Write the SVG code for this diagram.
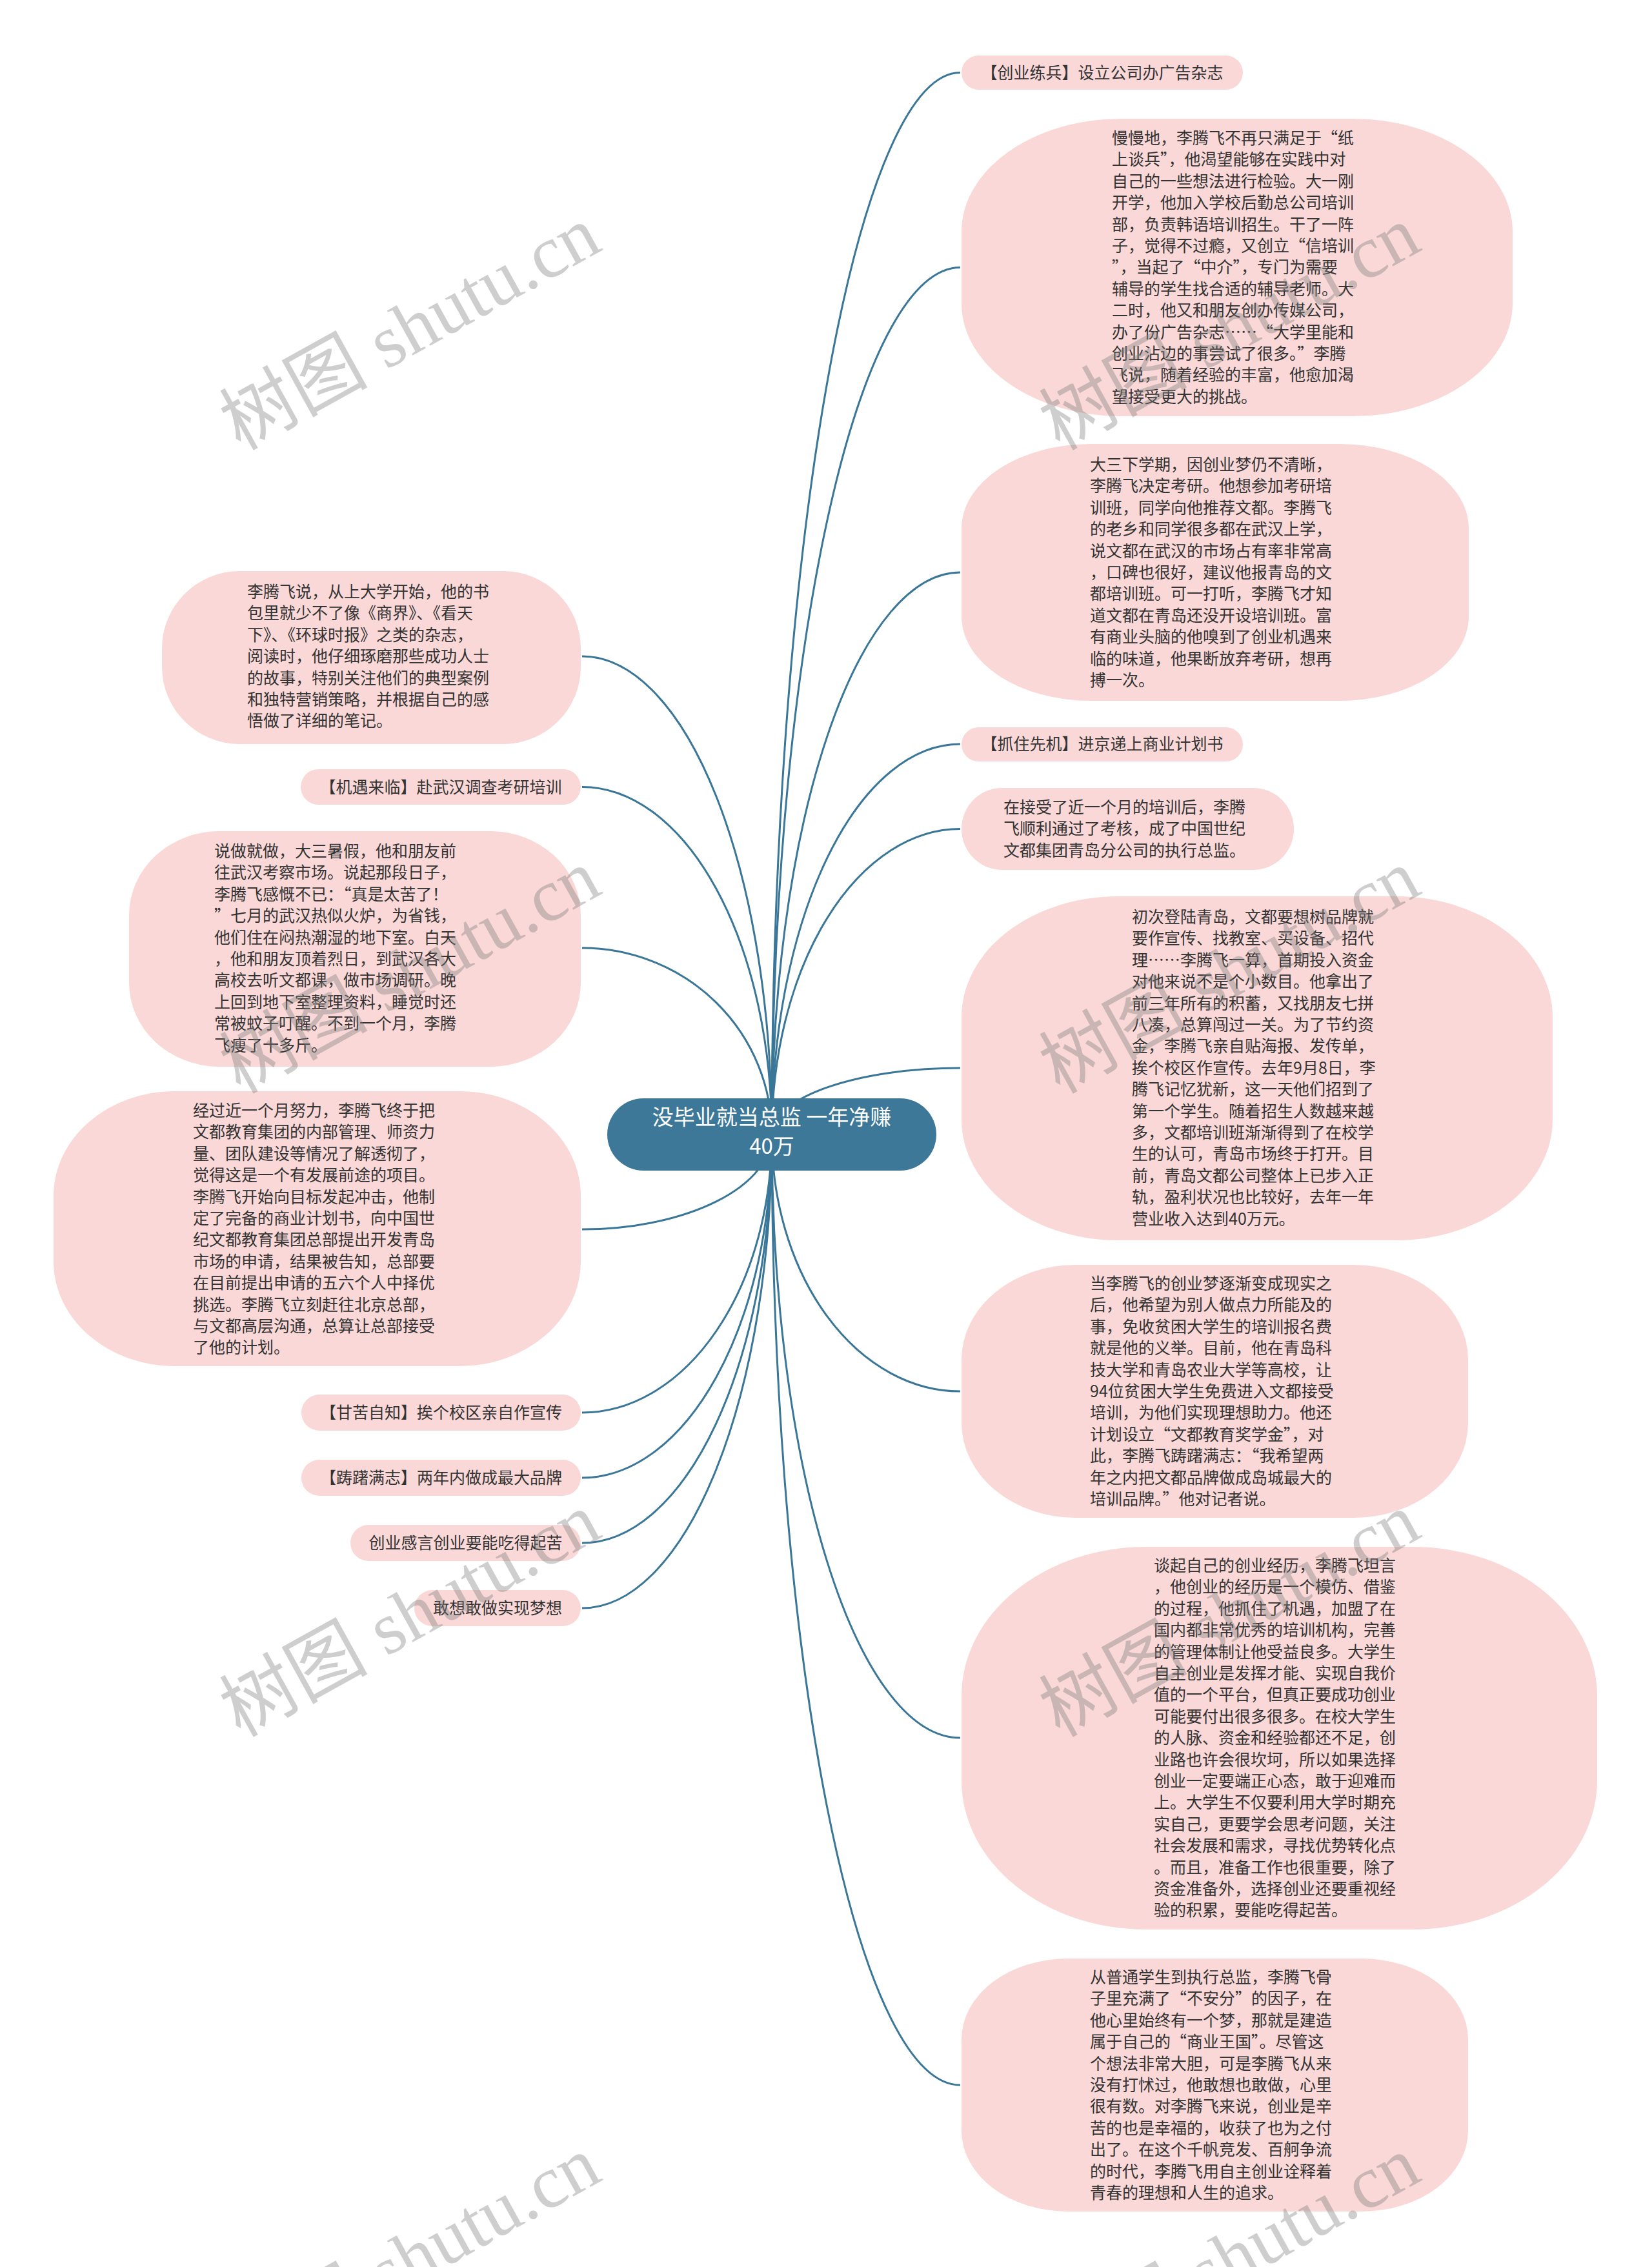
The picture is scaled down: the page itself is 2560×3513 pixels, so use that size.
<svg xmlns="http://www.w3.org/2000/svg" width="2560" height="3513" viewBox="0 0 2560 3513">
<style>
.nd{fill:#f9d8d7}
.t{font-family:"Noto Sans CJK SC","Noto Sans",sans-serif;font-size:25px;fill:#333333}
.tc{font-family:"Noto Sans CJK SC","Noto Sans",sans-serif;font-size:33px;fill:#ffffff}
.ln{fill:none;stroke:#3a7697;stroke-width:3}
.wm{font-family:"Liberation Serif","Noto Sans CJK SC",serif;font-size:115px;fill:#7f7f7f;opacity:0.38}
</style>
<rect x="0" y="0" width="2560" height="3513" fill="#ffffff"/>
<g id="connectors">
<path class="ln" d="M1196 1758 A292 1645.5 0 0 1 1488 112.5"/>
<path class="ln" d="M1196 1758 A292 1343.5 0 0 1 1488 414.5"/>
<path class="ln" d="M1196 1758 A292 871 0 0 1 1488 887"/>
<path class="ln" d="M1196 1758 A292 605 0 0 1 1488 1153"/>
<path class="ln" d="M1196 1758 A292 473.5 0 0 1 1488 1284.5"/>
<path class="ln" d="M1196 1758 A292 103 0 0 1 1488 1655"/>
<path class="ln" d="M1196 1758 A292 398 0 0 0 1488 2156"/>
<path class="ln" d="M1196 1758 A292 935 0 0 0 1488 2693"/>
<path class="ln" d="M1196 1758 A292 1473 0 0 0 1488 3231"/>
<path class="ln" d="M1196 1758 A294 741 0 0 0 902 1017"/>
<path class="ln" d="M1196 1758 A294 538.5 0 0 0 902 1219.5"/>
<path class="ln" d="M1196 1758 A294 289 0 0 0 902 1469"/>
<path class="ln" d="M1196 1758 A294 147 0 0 1 902 1905"/>
<path class="ln" d="M1196 1758 A294 431 0 0 1 902 2189"/>
<path class="ln" d="M1196 1758 A294 532 0 0 1 902 2290"/>
<path class="ln" d="M1196 1758 A294 633 0 0 1 902 2391"/>
<path class="ln" d="M1196 1758 A294 734 0 0 1 902 2492"/>
</g>
<g id="center">
<rect x="941" y="1702" width="510" height="112" rx="56" ry="56" fill="#3d7898"/>
<text class="tc" text-anchor="middle"><tspan x="1196" y="1743">没毕业就当总监 一年净赚</tspan><tspan x="1196" y="1788">40万</tspan></text>
</g>
<g id="r1">
<rect class="nd" x="1490" y="86" width="436" height="53" rx="26.5"/>
<text class="t" x="1708" y="121.5" text-anchor="middle">【创业练兵】设立公司办广告杂志</text>
</g>
<g id="r2">
<rect class="nd" x="1490" y="184" width="854" height="461" rx="248" ry="175"/>
<text class="t"><tspan x="1723" y="223">慢慢地，李腾飞不再只满足于“纸</tspan><tspan x="1723" dy="33.4">上谈兵”，他渴望能够在实践中对</tspan><tspan x="1723" dy="33.4">自己的一些想法进行检验。大一刚</tspan><tspan x="1723" dy="33.4">开学，他加入学校后勤总公司培训</tspan><tspan x="1723" dy="33.4">部，负责韩语培训招生。干了一阵</tspan><tspan x="1723" dy="33.4">子，觉得不过瘾，又创立“信培训</tspan><tspan x="1723" dy="33.4">”，当起了“中介”，专门为需要</tspan><tspan x="1723" dy="33.4">辅导的学生找合适的辅导老师。大</tspan><tspan x="1723" dy="33.4">二时，他又和朋友创办传媒公司，</tspan><tspan x="1723" dy="33.4">办了份广告杂志……“大学里能和</tspan><tspan x="1723" dy="33.4">创业沾边的事尝试了很多。”李腾</tspan><tspan x="1723" dy="33.4">飞说，随着经验的丰富，他愈加渴</tspan><tspan x="1723" dy="33.4">望接受更大的挑战。</tspan></text>
</g>
<g id="r3">
<rect class="nd" x="1490" y="688" width="786" height="398" rx="200" ry="131"/>
<text class="t"><tspan x="1689" y="729">大三下学期，因创业梦仍不清晰，</tspan><tspan x="1689" dy="33.4">李腾飞决定考研。他想参加考研培</tspan><tspan x="1689" dy="33.4">训班，同学向他推荐文都。李腾飞</tspan><tspan x="1689" dy="33.4">的老乡和同学很多都在武汉上学，</tspan><tspan x="1689" dy="33.4">说文都在武汉的市场占有率非常高</tspan><tspan x="1689" dy="33.4">，口碑也很好，建议他报青岛的文</tspan><tspan x="1689" dy="33.4">都培训班。可一打听，李腾飞才知</tspan><tspan x="1689" dy="33.4">道文都在青岛还没开设培训班。富</tspan><tspan x="1689" dy="33.4">有商业头脑的他嗅到了创业机遇来</tspan><tspan x="1689" dy="33.4">临的味道，他果断放弃考研，想再</tspan><tspan x="1689" dy="33.4">搏一次。</tspan></text>
</g>
<g id="r4">
<rect class="nd" x="1490" y="1127" width="436" height="53" rx="26.5"/>
<text class="t" x="1708" y="1162" text-anchor="middle">【抓住先机】进京递上商业计划书</text>
</g>
<g id="r5">
<rect class="nd" x="1490" y="1221" width="515" height="127" rx="63" ry="63"/>
<text class="t"><tspan x="1555" y="1260">在接受了近一个月的培训后，李腾</tspan><tspan x="1555" dy="33.4">飞顺利通过了考核，成了中国世纪</tspan><tspan x="1555" dy="33.4">文都集团青岛分公司的执行总监。</tspan></text>
</g>
<g id="r6">
<rect class="nd" x="1490" y="1389" width="916" height="533" rx="243" ry="187"/>
<text class="t"><tspan x="1754" y="1430">初次登陆青岛，文都要想树品牌就</tspan><tspan x="1754" dy="33.4">要作宣传、找教室、买设备、招代</tspan><tspan x="1754" dy="33.4">理……李腾飞一算，首期投入资金</tspan><tspan x="1754" dy="33.4">对他来说不是个小数目。他拿出了</tspan><tspan x="1754" dy="33.4">前三年所有的积蓄，又找朋友七拼</tspan><tspan x="1754" dy="33.4">八凑，总算闯过一关。为了节约资</tspan><tspan x="1754" dy="33.4">金，李腾飞亲自贴海报、发传单，</tspan><tspan x="1754" dy="33.4">挨个校区作宣传。去年9月8日，李</tspan><tspan x="1754" dy="33.4">腾飞记忆犹新，这一天他们招到了</tspan><tspan x="1754" dy="33.4">第一个学生。随着招生人数越来越</tspan><tspan x="1754" dy="33.4">多，文都培训班渐渐得到了在校学</tspan><tspan x="1754" dy="33.4">生的认可，青岛市场终于打开。目</tspan><tspan x="1754" dy="33.4">前，青岛文都公司整体上已步入正</tspan><tspan x="1754" dy="33.4">轨，盈利状况也比较好，去年一年</tspan><tspan x="1754" dy="33.4">营业收入达到40万元。</tspan></text>
</g>
<g id="r7">
<rect class="nd" x="1490" y="1960" width="785" height="392" rx="177" ry="147"/>
<text class="t"><tspan x="1689" y="1998">当李腾飞的创业梦逐渐变成现实之</tspan><tspan x="1689" dy="33.4">后，他希望为别人做点力所能及的</tspan><tspan x="1689" dy="33.4">事，免收贫困大学生的培训报名费</tspan><tspan x="1689" dy="33.4">就是他的义举。目前，他在青岛科</tspan><tspan x="1689" dy="33.4">技大学和青岛农业大学等高校，让</tspan><tspan x="1689" dy="33.4">94位贫困大学生免费进入文都接受</tspan><tspan x="1689" dy="33.4">培训，为他们实现理想助力。他还</tspan><tspan x="1689" dy="33.4">计划设立“文都教育奖学金”，对</tspan><tspan x="1689" dy="33.4">此，李腾飞踌躇满志：“我希望两</tspan><tspan x="1689" dy="33.4">年之内把文都品牌做成岛城最大的</tspan><tspan x="1689" dy="33.4">培训品牌。”他对记者说。</tspan></text>
</g>
<g id="r8">
<rect class="nd" x="1490" y="2397" width="985" height="593" rx="286" ry="231"/>
<text class="t"><tspan x="1788" y="2435">谈起自己的创业经历，李腾飞坦言</tspan><tspan x="1788" dy="33.4">，他创业的经历是一个模仿、借鉴</tspan><tspan x="1788" dy="33.4">的过程，他抓住了机遇，加盟了在</tspan><tspan x="1788" dy="33.4">国内都非常优秀的培训机构，完善</tspan><tspan x="1788" dy="33.4">的管理体制让他受益良多。大学生</tspan><tspan x="1788" dy="33.4">自主创业是发挥才能、实现自我价</tspan><tspan x="1788" dy="33.4">值的一个平台，但真正要成功创业</tspan><tspan x="1788" dy="33.4">可能要付出很多很多。在校大学生</tspan><tspan x="1788" dy="33.4">的人脉、资金和经验都还不足，创</tspan><tspan x="1788" dy="33.4">业路也许会很坎坷，所以如果选择</tspan><tspan x="1788" dy="33.4">创业一定要端正心态，敢于迎难而</tspan><tspan x="1788" dy="33.4">上。大学生不仅要利用大学时期充</tspan><tspan x="1788" dy="33.4">实自己，更要学会思考问题，关注</tspan><tspan x="1788" dy="33.4">社会发展和需求，寻找优势转化点</tspan><tspan x="1788" dy="33.4">。而且，准备工作也很重要，除了</tspan><tspan x="1788" dy="33.4">资金准备外，选择创业还要重视经</tspan><tspan x="1788" dy="33.4">验的积累，要能吃得起苦。</tspan></text>
</g>
<g id="r9">
<rect class="nd" x="1490" y="3035" width="785" height="392" rx="165" ry="125"/>
<text class="t"><tspan x="1689" y="3073">从普通学生到执行总监，李腾飞骨</tspan><tspan x="1689" dy="33.4">子里充满了“不安分”的因子，在</tspan><tspan x="1689" dy="33.4">他心里始终有一个梦，那就是建造</tspan><tspan x="1689" dy="33.4">属于自己的“商业王国”。尽管这</tspan><tspan x="1689" dy="33.4">个想法非常大胆，可是李腾飞从来</tspan><tspan x="1689" dy="33.4">没有打怵过，他敢想也敢做，心里</tspan><tspan x="1689" dy="33.4">很有数。对李腾飞来说，创业是辛</tspan><tspan x="1689" dy="33.4">苦的也是幸福的，收获了也为之付</tspan><tspan x="1689" dy="33.4">出了。在这个千帆竞发、百舸争流</tspan><tspan x="1689" dy="33.4">的时代，李腾飞用自主创业诠释着</tspan><tspan x="1689" dy="33.4">青春的理想和人生的追求。</tspan></text>
</g>
<g id="l1">
<rect class="nd" x="251" y="885" width="649" height="268" rx="120" ry="120"/>
<text class="t"><tspan x="383" y="926">李腾飞说，从上大学开始，他的书</tspan><tspan x="383" dy="33.4">包里就少不了像《商界》、《看天</tspan><tspan x="383" dy="33.4">下》、《环球时报》之类的杂志，</tspan><tspan x="383" dy="33.4">阅读时，他仔细琢磨那些成功人士</tspan><tspan x="383" dy="33.4">的故事，特别关注他们的典型案例</tspan><tspan x="383" dy="33.4">和独特营销策略，并根据自己的感</tspan><tspan x="383" dy="33.4">悟做了详细的笔记。</tspan></text>
</g>
<g id="l2">
<rect class="nd" x="466" y="1192" width="434" height="55" rx="27.5"/>
<text class="t" x="683" y="1228.5" text-anchor="middle">【机遇来临】赴武汉调查考研培训</text>
</g>
<g id="l3">
<rect class="nd" x="200" y="1288" width="700" height="365" rx="140" ry="130"/>
<text class="t"><tspan x="332" y="1328">说做就做，大三暑假，他和朋友前</tspan><tspan x="332" dy="33.4">往武汉考察市场。说起那段日子，</tspan><tspan x="332" dy="33.4">李腾飞感慨不已：“真是太苦了！</tspan><tspan x="332" dy="33.4">”七月的武汉热似火炉，为省钱，</tspan><tspan x="332" dy="33.4">他们住在闷热潮湿的地下室。白天</tspan><tspan x="332" dy="33.4">，他和朋友顶着烈日，到武汉各大</tspan><tspan x="332" dy="33.4">高校去听文都课，做市场调研。晚</tspan><tspan x="332" dy="33.4">上回到地下室整理资料，睡觉时还</tspan><tspan x="332" dy="33.4">常被蚊子叮醒。不到一个月，李腾</tspan><tspan x="332" dy="33.4">飞瘦了十多斤。</tspan></text>
</g>
<g id="l4">
<rect class="nd" x="83" y="1691" width="817" height="426" rx="188" ry="162"/>
<text class="t"><tspan x="299" y="1730">经过近一个月努力，李腾飞终于把</tspan><tspan x="299" dy="33.4">文都教育集团的内部管理、师资力</tspan><tspan x="299" dy="33.4">量、团队建设等情况了解透彻了，</tspan><tspan x="299" dy="33.4">觉得这是一个有发展前途的项目。</tspan><tspan x="299" dy="33.4">李腾飞开始向目标发起冲击，他制</tspan><tspan x="299" dy="33.4">定了完备的商业计划书，向中国世</tspan><tspan x="299" dy="33.4">纪文都教育集团总部提出开发青岛</tspan><tspan x="299" dy="33.4">市场的申请，结果被告知，总部要</tspan><tspan x="299" dy="33.4">在目前提出申请的五六个人中择优</tspan><tspan x="299" dy="33.4">挑选。李腾飞立刻赶往北京总部，</tspan><tspan x="299" dy="33.4">与文都高层沟通，总算让总部接受</tspan><tspan x="299" dy="33.4">了他的计划。</tspan></text>
</g>
<g id="l5">
<rect class="nd" x="467" y="2161" width="433" height="56" rx="28"/>
<text class="t" x="683.5" y="2198" text-anchor="middle">【甘苦自知】挨个校区亲自作宣传</text>
</g>
<g id="l6">
<rect class="nd" x="467" y="2262" width="433" height="56" rx="28"/>
<text class="t" x="683.5" y="2299" text-anchor="middle">【踌躇满志】两年内做成最大品牌</text>
</g>
<g id="l7">
<rect class="nd" x="543" y="2363" width="357" height="56" rx="28"/>
<text class="t" x="721.5" y="2400" text-anchor="middle">创业感言创业要能吃得起苦</text>
</g>
<g id="l8">
<rect class="nd" x="642" y="2464" width="258" height="56" rx="28"/>
<text class="t" x="771" y="2501" text-anchor="middle">敢想敢做实现梦想</text>
</g>
<g id="watermarks">
<text class="wm" transform="translate(372 699) rotate(-29)">树图 shutu.cn</text>
<text class="wm" transform="translate(1642 699) rotate(-29)">树图 shutu.cn</text>
<text class="wm" transform="translate(372 1696) rotate(-29)">树图 shutu.cn</text>
<text class="wm" transform="translate(1642 1696) rotate(-29)">树图 shutu.cn</text>
<text class="wm" transform="translate(372 2693) rotate(-29)">树图 shutu.cn</text>
<text class="wm" transform="translate(1642 2693) rotate(-29)">树图 shutu.cn</text>
<text class="wm" transform="translate(372 3690) rotate(-29)">树图 shutu.cn</text>
<text class="wm" transform="translate(1642 3690) rotate(-29)">树图 shutu.cn</text>
</g>
</svg>
